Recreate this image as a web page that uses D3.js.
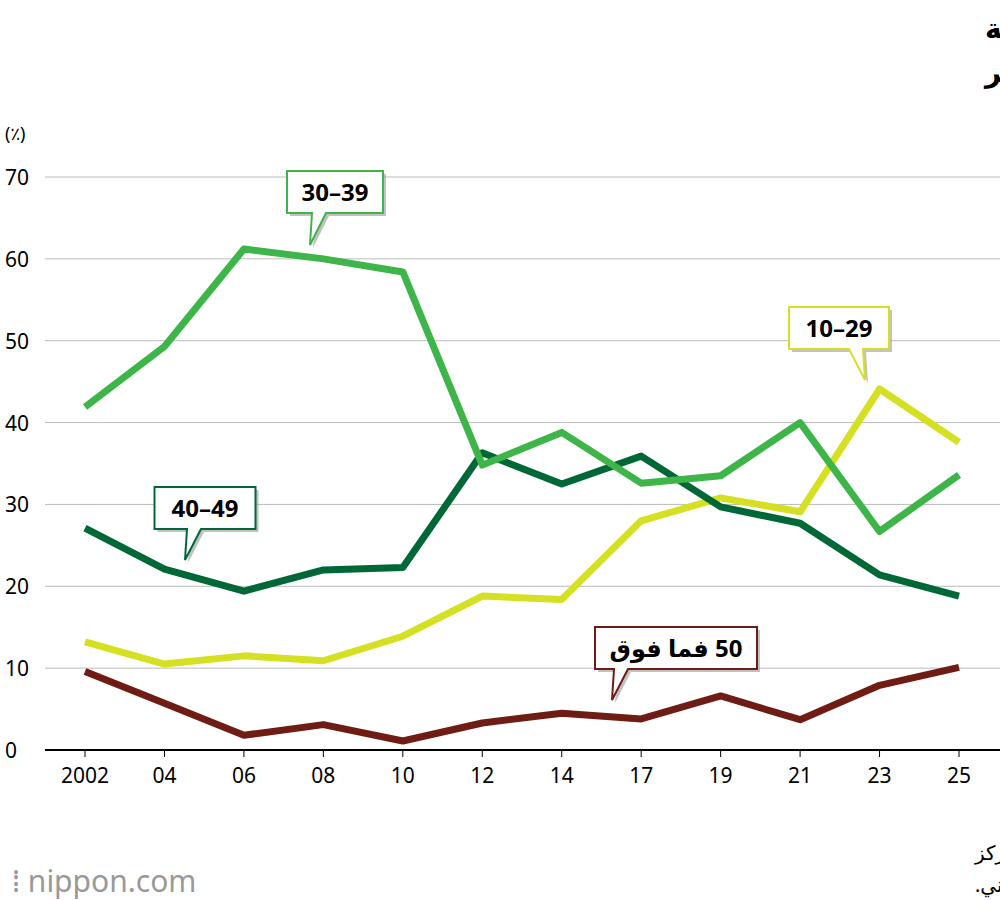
<!DOCTYPE html><html><head><meta charset="utf-8"><script src="https://cdn.jsdelivr.net/npm/d3@7"></script>
<style>body{margin:0;background:#fff}svg{font-family:"Noto Sans","DejaVu Sans",sans-serif}</style></head><body><svg width="1000" height="900"></svg><script>
const years=["2002","04","06","08","10","12","14","17","19","21","23","25"];
const yTicks=[0,10,20,30,40,50,60,70];
const s3039=[41.9,49.3,61.2,60,58.4,34.8,38.8,32.6,33.5,40,26.7,33.6];
const s4049=[27.1,22.1,19.4,22,22.3,36.3,32.5,35.9,29.7,27.7,21.4,18.8];
const s1029=[13.2,10.5,11.5,10.9,13.9,18.8,18.4,28,30.8,29.1,44.1,37.6];
const s50=[9.6,5.7,1.8,3.1,1.1,3.3,4.5,3.8,6.6,3.7,7.9,10.1];
const series=[
 {v:s50,c:"#6e1c14",label:"50 فما فوق",bx:676,by:648,w:162,px:612,py:700,side:-1},
 {v:s1029,c:"#d6e023",label:"29–10",bx:839,by:328,w:100,px:865,py:380,side:1},
 {v:s4049,c:"#006837",label:"49–40",bx:205,by:508,w:101,px:185,py:560,side:-1},
 {v:s3039,c:"#3db549",label:"39–30",bx:335,by:192,w:96,px:310,py:245,side:-1}];
const svg=d3.select("svg");
const x=d3.scalePoint().domain(years).range([85,959]);
const y=d3.scaleLinear().domain([0,70]).range([750,177]);
svg.append("text").attr("x",985).attr("y",38).attr("text-anchor","end").attr("direction","rtl").attr("font-size",28).attr("font-weight","bold").text("الموظفون الذين يعانون من مشاكل الصحة النفسية المرتبطة");
svg.append("text").attr("x",985).attr("y",82).attr("text-anchor","end").attr("direction","rtl").attr("font-size",28).attr("font-weight","bold").text("بالعمل حسب العمر");
svg.append("text").attr("x",5).attr("y",140).attr("font-size",18).text("(٪)");
yTicks.forEach(t=>{
 svg.append("line").attr("x1",45).attr("x2",1000).attr("y1",y(t)).attr("y2",y(t)).attr("stroke",t?"#bbb":"#000").attr("stroke-width",t?1:2);
 svg.append("text").attr("x",5).attr("y",y(t)+8).attr("font-size",21).text(t);
});
years.forEach(d=>{
 svg.append("line").attr("x1",x(d)).attr("x2",x(d)).attr("y1",751).attr("y2",757).attr("stroke","#000");
 svg.append("text").attr("x",x(d)).attr("y",783).attr("text-anchor","middle").attr("font-size",21).text(d);
});
const line=d3.line().x((d,i)=>x(years[i])).y(d=>y(d));
series.forEach(s=>svg.append("path").attr("d",line(s.v)).attr("fill","none").attr("stroke",s.c).attr("stroke-width",7).attr("stroke-linejoin","round"));
series.forEach(s=>{
 const g=svg.append("g"),h=42,l=s.bx-s.w/2,t=s.by-h/2,b=s.by+h/2;
 const bx0=s.side<0?s.px+2:s.px-16, bx1=bx0+14;
 const p=`M${l},${t}H${l+s.w}V${b}H${bx1}L${s.px},${s.py}L${bx0},${b}H${l}Z`;
 g.append("path").attr("d",p).attr("transform","translate(3,3)").attr("fill","#999").attr("opacity",0.6);
 g.append("path").attr("d",p).attr("fill","#fff").attr("stroke",s.c).attr("stroke-width",2);
 g.append("text").attr("x",s.bx).attr("y",s.by+9).attr("text-anchor","middle").attr("direction","rtl").attr("font-size",24).attr("font-weight","bold").text(s.label);
});
svg.append("text").attr("x",975).attr("y",860).attr("text-anchor","end").attr("direction","rtl").attr("font-size",20).text("تم إعداد البيانات بواسطة Nippon.com استنادًا إلى بيانات مركز");
svg.append("text").attr("x",975).attr("y",892).attr("text-anchor","end").attr("direction","rtl").attr("font-size",20).text("الإنتاجية الياباني.");
svg.append("text").attr("x",12).attr("y",892).attr("font-size",30).attr("fill","#999").text("⁞ nippon.com");
</script></body></html>
